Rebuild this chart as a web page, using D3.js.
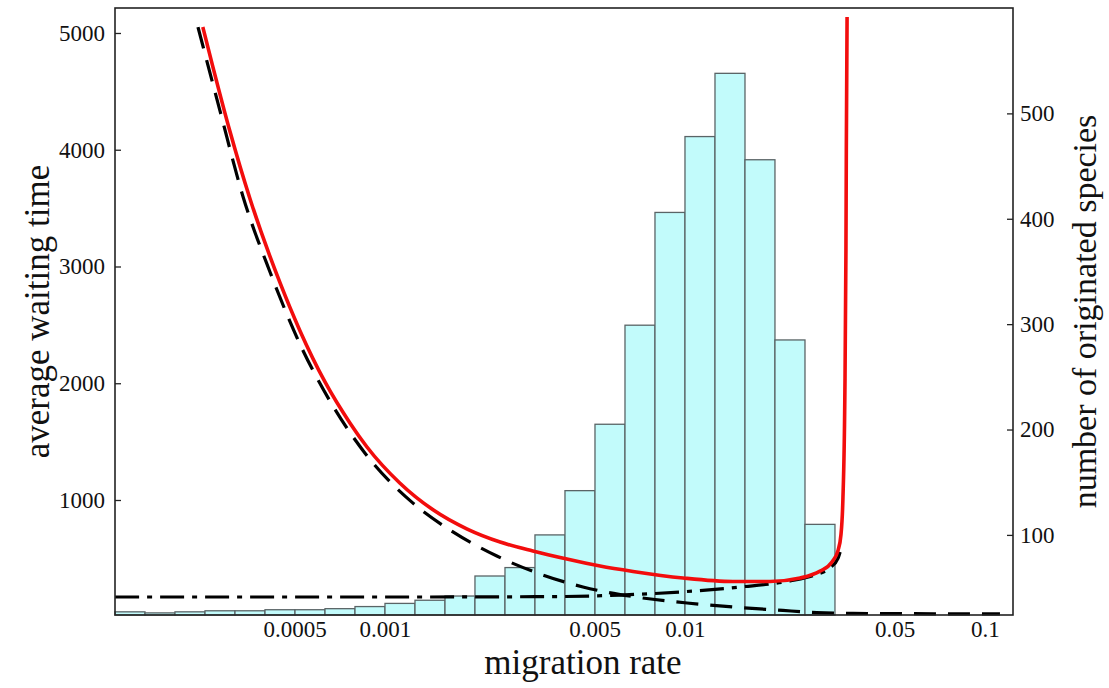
<!DOCTYPE html>
<html>
<head>
<meta charset="utf-8">
<script src="https://cdn.jsdelivr.net/npm/d3@7"></script>
<style>
  body { margin: 0; background: #fff; }
  svg text { font-family: "Liberation Serif", "Times New Roman", serif; fill: #111; }
</style>
</head>
<body>
<svg id="chart" width="1109" height="688"></svg>
<script>
// histogram bins (migration rate, log spaced) and counts of originated species
var binEdges = [0.0001259, 0.0001585, 0.0001995, 0.0002512, 0.0003162, 0.0003981, 0.0005012,
  0.000631, 0.0007943, 0.001, 0.001259, 0.001585, 0.001995, 0.002512, 0.003162, 0.003981,
  0.005012, 0.00631, 0.007943, 0.01, 0.01259, 0.01585, 0.01995, 0.02512, 0.03162];
var binCounts = [27, 26, 27, 28, 28, 29, 29, 30, 32, 35, 38, 42, 61, 69, 100, 142, 205, 299,
  406, 478, 538, 456, 285, 110];

// red curve - average waiting time
var redM = [0.000247, 0.000267, 0.000304, 0.000355, 0.000447, 0.000521, 0.000631, 0.000764,
  0.000871, 0.00112, 0.00145, 0.00188, 0.00242, 0.00311, 0.00404, 0.00521, 0.00671, 0.00985,
  0.01445, 0.0192, 0.0242, 0.0282, 0.0309, 0.0324, 0.0331, 0.0336, 0.0341, 0.0344, 0.0345, 0.0347];
var redT = [5051, 4708, 4160, 3578, 2859, 2448, 2011, 1660, 1454, 1146, 914, 751, 640, 563, 494,
  434, 388, 332, 302, 302, 332, 391, 469, 571, 700, 1000, 1857, 3142, 3998, 5137];

// dashed curve
var dashM = [0.000238, 0.000282, 0.000336, 0.000414, 0.000521, 0.000656, 0.000858, 0.00124,
  0.00169, 0.00236, 0.00329, 0.00457, 0.00671, 0.01016, 0.01445, 0.0212, 0.0275, 0.0363, 0.1122];
var dashT = [5051, 4331, 3602, 2951, 2334, 1846, 1401, 973, 725, 520, 366, 255, 173, 118, 84,
  54, 36, 29, 24];

// dash-dot curve
var dotM = [0.000126, 0.00112, 0.00383, 0.00607, 0.00962, 0.01525, 0.0224, 0.0271, 0.0304, 0.0324, 0.0329];
var dotT = [169, 169, 173, 186, 212, 255, 306, 357, 418, 503, 555];

var xTicks = [0.0005, 0.001, 0.005, 0.01, 0.05, 0.1];
var xTickLabels = ["0.0005", "0.001", "0.005", "0.01", "0.05", "0.1"];
var leftTicks = [1000, 2000, 3000, 4000, 5000];
var rightTicks = [100, 200, 300, 400, 500];

var svg = d3.select("#chart");
var L = 115, R = 1013, T = 8, B = 615;

var x = d3.scaleLog().domain([0.0001259, 0.124]).range([L, R]);
var yL = d3.scaleLinear().domain([15, 5214]).range([B, T]);
var yR = d3.scaleLinear().domain([24, 600]).range([B, T]);

// bars
var bins = binCounts.map(function(c, i){ return {x0: binEdges[i], x1: binEdges[i + 1], n: c}; });
svg.append("g").selectAll("rect").data(bins).enter().append("rect")
  .attr("x", function(d){ return x(d.x0); })
  .attr("width", function(d){ return x(d.x1) - x(d.x0); })
  .attr("y", function(d){ return yR(d.n); })
  .attr("height", function(d){ return B - yR(d.n); })
  .attr("fill", "#c2fbfb")
  .attr("stroke", "#5a6466")
  .attr("stroke-width", 1.3);

// curves
function zip(ms, ts){ return ms.map(function(m, i){ return [m, ts[i]]; }); }
var line = d3.line()
  .x(function(d){ return x(d[0]); })
  .y(function(d){ return yL(d[1]); })
  .curve(d3.curveMonotoneX);

svg.append("path").datum(zip(dotM, dotT)).attr("d", line)
  .attr("fill", "none").attr("stroke", "#000").attr("stroke-width", 3.2)
  .attr("stroke-dasharray", "24,8,5,8");
svg.append("path").datum(zip(dashM, dashT)).attr("d", line)
  .attr("fill", "none").attr("stroke", "#000").attr("stroke-width", 3.2)
  .attr("stroke-dasharray", "22,12");
svg.append("path").datum(zip(redM, redT)).attr("d", line)
  .attr("fill", "none").attr("stroke", "#f20d0d").attr("stroke-width", 3.6);

// frame
svg.append("rect").attr("x", L).attr("y", T).attr("width", R - L).attr("height", B - T)
  .attr("fill", "none").attr("stroke", "#222").attr("stroke-width", 1.6);

// left axis
var gl = svg.append("g").attr("transform", "translate(" + L + ",0)");
gl.call(d3.axisLeft(yL).tickValues(d3.range(200, 5201, 200)).tickSizeInner(-3).tickSizeOuter(0).tickFormat(""));
gl.call(d3.axisLeft(yL).tickValues(leftTicks).tickSizeInner(-6).tickSizeOuter(0).tickPadding(10)
  .tickFormat(d3.format("d")));
gl.select(".domain").remove();

// right axis
var gr = svg.append("g").attr("transform", "translate(" + R + ",0)");
gr.call(d3.axisRight(yR).tickValues(d3.range(40, 601, 20)).tickSizeInner(-3).tickSizeOuter(0).tickFormat(""));
gr.call(d3.axisRight(yR).tickValues(rightTicks).tickSizeInner(-6).tickSizeOuter(0).tickPadding(7)
  .tickFormat(d3.format("d")));
gr.select(".domain").remove();

// bottom axis labels
var gb = svg.append("g").attr("transform", "translate(0," + B + ")");
gb.call(d3.axisBottom(x).tickValues(xTicks).tickSizeInner(0).tickSizeOuter(0).tickPadding(6)
  .tickFormat(function(d, i){ return xTickLabels[i]; }));
gb.select(".domain").remove();

svg.selectAll(".tick text").attr("font-size", 23).attr("font-family", "Liberation Serif").attr("fill", "#111");
svg.selectAll(".tick line").attr("stroke", "#222").attr("stroke-width", 1.3);

// titles
svg.append("text").attr("x", 583).attr("y", 674).attr("text-anchor", "middle")
  .attr("font-size", 35).text("migration rate");
svg.append("text").attr("transform", "translate(49," + ((T + B) / 2) + ") rotate(-90)")
  .attr("text-anchor", "middle").attr("font-size", 35).text("average waiting time");
svg.append("text").attr("transform", "translate(1096," + ((T + B) / 2) + ") rotate(-90)")
  .attr("text-anchor", "middle").attr("font-size", 34).text("number of originated species");
</script>
</body>
</html>
